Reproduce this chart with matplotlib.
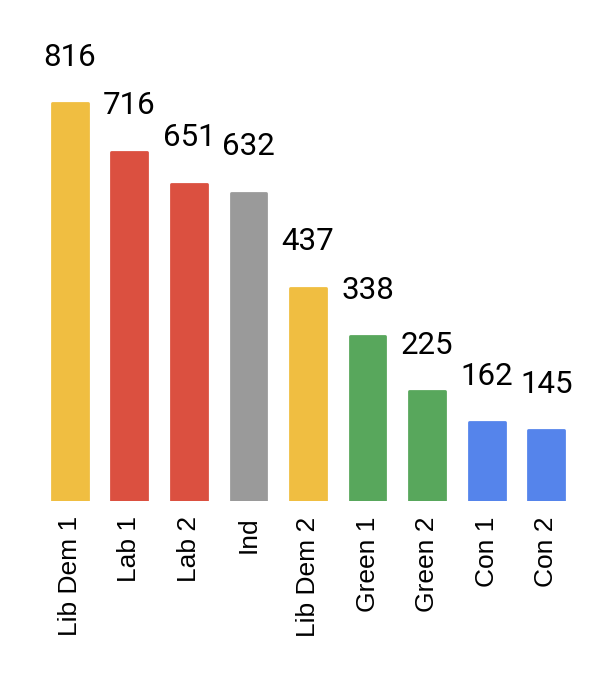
import matplotlib
matplotlib.use('Agg')
import matplotlib.pyplot as plt
import numpy as np

# ── Dados ─────────────────────────────────────────────────────────────────────
candidates = ['Lib Dem 1', 'Lab 1', 'Lab 2', 'Ind', 'Lib Dem 2',
              'Green 1', 'Green 2', 'Con 1', 'Con 2']
votes = [816, 716, 651, 632, 437, 338, 225, 162, 145]
parties = ['LD', 'Lab', 'Lab', 'Ind', 'LD', 'Green', 'Green', 'Con', 'Con']

PARTY_COLORS = {
    'LD':    '#F0BE41',
    'Lab':   '#DB5040',
    'Ind':   '#9A9A9A',
    'Green': '#58A75C',
    'Con':   '#5584EB',
}

fig = plt.figure(figsize=(6.02, 6.8), dpi=100)
# eixo: x de 40 a 576 px, y de 30 a 501 px (a partir do topo)
ax = fig.add_axes([40 / 602, (680 - 501) / 680, 536 / 602, 471 / 680])

x = np.arange(len(candidates))
cores = [PARTY_COLORS[p] for p in parties]
bars = ax.bar(x, votes, 0.6, color=cores, edgecolor=cores, linewidth=2,
              joinstyle='round')

for bar, v in zip(bars, votes):
    ax.annotate(f'{v}',
                xy=(bar.get_x() + bar.get_width() / 2, v),
                xytext=(0, 27), textcoords='offset points',
                ha='center', va='baseline', fontsize=22.5,
                family='Roboto', color='black')

ax.set_xlim(-0.5, len(candidates) - 0.5)
ax.set_ylim(0, 966)
ax.set_xticks(x)
ax.set_xticklabels(candidates, rotation=90, fontsize=19,
                   family='Liberation Sans', va='top', ha='center')
ax.tick_params(axis='x', length=0, pad=11)
ax.set_yticks([])
for s in ax.spines.values():
    s.set_visible(False)

fig.savefig('out.png', dpi=100)
